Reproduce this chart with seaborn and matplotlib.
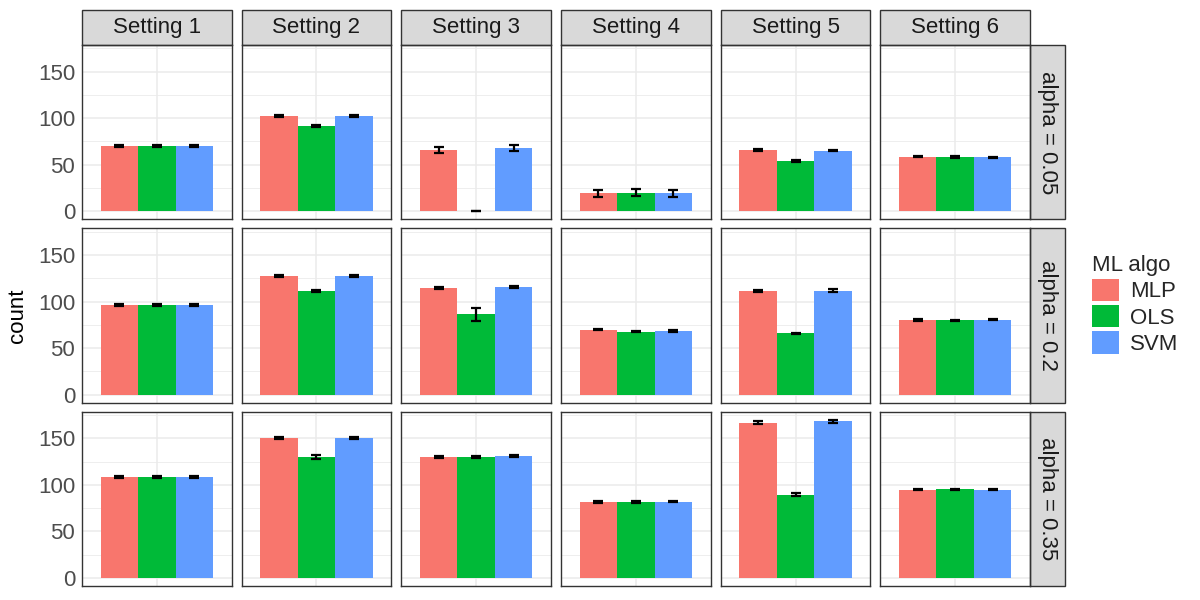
import numpy as np
import pandas as pd
import seaborn as sns
import matplotlib.pyplot as plt
from matplotlib.patches import Rectangle, Patch

# data
settings = ["Setting 1", "Setting 2", "Setting 3", "Setting 4", "Setting 5", "Setting 6"]
alphas = ["alpha = 0.05", "alpha = 0.2", "alpha = 0.35"]
algos = ["MLP", "OLS", "SVM"]
colors = ["#F8766D", "#00BA38", "#619CFF"]

mlp_005 = [69.8, 102.2, 65.8, 19.2, 66.0, 58.6]
ols_005 = [70.4, 91.6, 0.3, 20.2, 54.0, 58.2]
svm_005 = [70.4, 102.3, 68.3, 19.3, 65.2, 58.0]
mlp_020 = [96.3, 127.0, 114.9, 69.8, 111.0, 80.2]
ols_020 = [96.3, 111.7, 86.3, 67.7, 65.9, 79.9]
svm_020 = [96.2, 127.5, 115.3, 68.4, 111.7, 80.5]
mlp_035 = [108.5, 150.0, 130.3, 81.6, 166.5, 94.8]
ols_035 = [108.5, 129.6, 129.6, 81.6, 89.5, 95.2]
svm_035 = [108.5, 150.0, 130.6, 81.9, 168.3, 94.8]

mlp_005_se = [1.0, 1.0, 3.7, 3.5, 0.8, 0.8]
ols_005_se = [1.0, 1.0, 0.3, 3.5, 0.8, 0.8]
svm_005_se = [1.0, 1.0, 3.0, 3.5, 0.8, 0.8]
mlp_020_se = [0.8, 1.0, 1.0, 0.8, 1.2, 0.8]
ols_020_se = [0.8, 1.0, 7.0, 0.8, 0.8, 0.8]
svm_020_se = [0.8, 1.0, 1.0, 0.8, 1.2, 0.8]
mlp_035_se = [0.8, 1.0, 1.0, 0.8, 1.5, 0.8]
ols_035_se = [0.8, 2.0, 1.0, 0.8, 1.5, 0.8]
svm_035_se = [0.8, 1.0, 1.0, 0.8, 1.5, 0.8]

rows = []
table = {
    alphas[0]: [(mlp_005, mlp_005_se), (ols_005, ols_005_se), (svm_005, svm_005_se)],
    alphas[1]: [(mlp_020, mlp_020_se), (ols_020, ols_020_se), (svm_020, svm_020_se)],
    alphas[2]: [(mlp_035, mlp_035_se), (ols_035, ols_035_se), (svm_035, svm_035_se)],
}
for a in alphas:
    for algo, (vals, ses) in zip(algos, table[a]):
        for s, v, e in zip(settings, vals, ses):
            rows.append(dict(alpha=a, setting=s, algo=algo, count=v, se=e, x=""))
df = pd.DataFrame(rows)

sns.set_style("white")
plt.rcParams["font.family"] = ["Liberation Sans", "DejaVu Sans"]

fig, axes = plt.subplots(3, 6, figsize=(12, 6), dpi=100, sharey=True)
fig.subplots_adjust(left=82/1200, right=1030/1200, top=1-45/600, bottom=1-586/600,
                    wspace=0.067, hspace=0.052)

W, H = 149.5, 174.0  # panel size px
for i, a in enumerate(alphas):
    for j, s in enumerate(settings):
        ax = axes[i, j]
        sub = df[(df.alpha == a) & (df.setting == s)]
        sns.barplot(data=sub, x="x", y="count", hue="algo", hue_order=algos,
                    palette=colors, width=0.9, saturation=1, errorbar=None,
                    linewidth=0, legend=False, ax=ax, zorder=2)
        xs = [p.get_x() + p.get_width() / 2 for p in ax.patches[:3]]
        ys = [sub[sub.algo == g]["count"].iloc[0] for g in algos]
        es = [sub[sub.algo == g]["se"].iloc[0] for g in algos]
        ax.errorbar(xs, ys, yerr=es, fmt="none", ecolor="black", elinewidth=1.6,
                    capsize=3.6, capthick=1.6, zorder=3)
        ax.set_xlim(-0.6, 0.6)
        ax.set_ylim(-8.5, 178.5)
        ax.set_yticks([0, 50, 100, 150])
        ax.set_yticks([25, 75, 125, 175], minor=True)
        ax.set_xticks([0])
        ax.grid(True, which="major", color="#EBEBEB", linewidth=1.1, zorder=0)
        ax.grid(True, which="minor", axis="y", color="#EBEBEB", linewidth=0.6, zorder=0)
        ax.set_axisbelow(True)
        ax.tick_params(axis="x", length=0, labelbottom=False)
        ax.tick_params(axis="y", which="major", length=3, width=0.8, color="#333333",
                       labelsize=16, labelcolor="#4D4D4D", pad=2)
        ax.tick_params(axis="y", which="minor", length=0)
        if j > 0:
            ax.tick_params(axis="y", which="major", length=0, labelleft=False)
        ax.set_xlabel("")
        ax.set_ylabel("")
        for sp in ax.spines.values():
            sp.set_visible(True)
            sp.set_color("#333333")
            sp.set_linewidth(1.0)
        if i == 0:
            ax.add_patch(Rectangle((0, 1), 1, 35/H, transform=ax.transAxes, clip_on=False,
                                   facecolor="#D9D9D9", edgecolor="#333333", linewidth=1.0))
            ax.text(0.5, 1 + 17.5/H, s, transform=ax.transAxes, ha="center", va="center",
                    fontsize=16, color="#1A1A1A")
        if j == 5:
            ax.add_patch(Rectangle((1, 0), 35/W, 1, transform=ax.transAxes, clip_on=False,
                                   facecolor="#D9D9D9", edgecolor="#333333", linewidth=1.0))
            ax.text(1 + 17.5/W, 0.5, a, transform=ax.transAxes, ha="center", va="center",
                    rotation=270, fontsize=16, color="#1A1A1A")

fig.text(18/1200, 1 - 315.5/600, "count", rotation=90, ha="center", va="center",
         fontsize=16, color="black")

handles = [Patch(facecolor=c, edgecolor="none") for c in colors]
fig.legend(handles, algos, title="ML algo", loc="upper left",
           bbox_to_anchor=(1092/1200, 1 - 255/600), frameon=False, fontsize=16,
           title_fontsize=16, handlelength=1.2, handleheight=1.17, labelspacing=0.12,
           handletextpad=0.5, borderpad=0, borderaxespad=0, alignment="left")

fig.savefig("out.png", dpi=100)
